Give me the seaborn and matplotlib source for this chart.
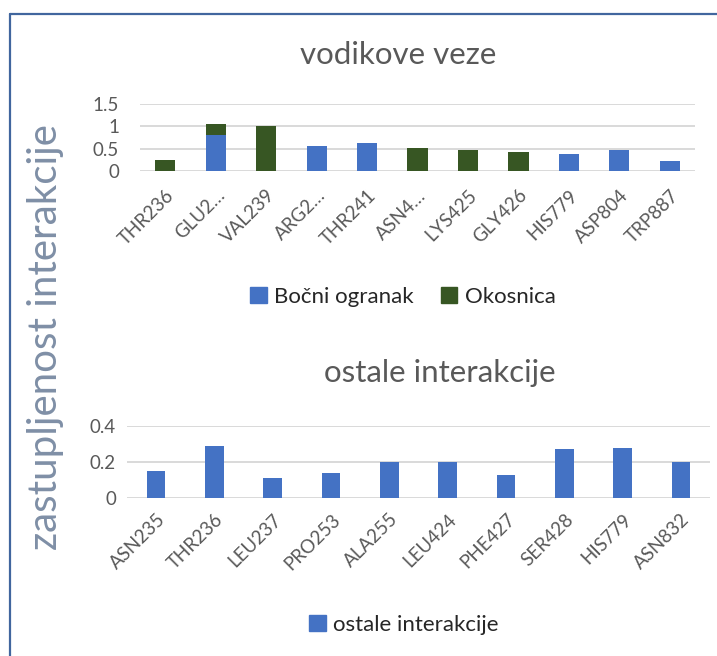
import matplotlib
matplotlib.use("Agg")
import matplotlib.pyplot as plt
from matplotlib.lines import Line2D
from matplotlib.patches import Patch
import seaborn as sns
import pandas as pd

# Hydrogen bonds: side chain vs. backbone contributions per residue
hb_residues = ["THR236", "GLU2…", "VAL239", "ARG2…", "THR241", "ASN4…",
               "LYS425", "GLY426", "HIS779", "ASP804", "TRP887"]
hb_side_chain = [0.0, 0.80, 0.0, 0.56, 0.64, 0.0, 0.0, 0.0, 0.39, 0.47, 0.22]
hb_backbone = [0.26, 0.26, 1.01, 0.0, 0.0, 0.51, 0.47, 0.44, 0.0, 0.0, 0.0]

# Other interactions per residue
other_residues = ["ASN235", "THR236", "LEU237", "PRO253", "ALA255",
                  "LEU424", "PHE427", "SER428", "HIS779", "ASN832"]
other_values = [0.15, 0.29, 0.11, 0.14, 0.20, 0.20, 0.13, 0.27, 0.28, 0.20]

BLUE = "#4472C4"
GREEN = "#375623"
GRID = "#D9D9D9"
TEXT = "#595959"

sns.set_theme(style="white")
plt.rcParams["font.family"] = ["Lato", "DejaVu Sans"]

W, H = 717, 656
fig = plt.figure(figsize=(W / 100, H / 100), dpi=100)


def px_axes(left, right, top, bottom):
    return fig.add_axes([left / W, 1 - bottom / H, (right - left) / W, (bottom - top) / H])


hb = pd.DataFrame({
    "residue": hb_residues,
    "side": hb_side_chain,
    "total": [s + b for s, b in zip(hb_side_chain, hb_backbone)],
})
other = pd.DataFrame({"residue": other_residues, "value": other_values})

# --- top panel: stacked bars (backbone drawn as total, side chain over it)
ax1 = px_axes(140, 695, 104, 171.3)
sns.barplot(data=hb, x="residue", y="total", color=GREEN, saturation=1,
            width=0.40, ax=ax1, linewidth=0)
sns.barplot(data=hb, x="residue", y="side", color=BLUE, saturation=1,
            width=0.40, ax=ax1, linewidth=0)
ax1.set_ylim(0, 1.5)
ax1.set_yticks([0, 0.5, 1, 1.5])
ax1.set_yticklabels(["0", "0.5", "1", "1.5"])

# --- bottom panel
ax2 = px_axes(127, 710, 426, 498)
sns.barplot(data=other, x="residue", y="value", color=BLUE, saturation=1,
            width=0.32, ax=ax2, linewidth=0)
ax2.set_ylim(0, 0.4)
ax2.set_yticks([0, 0.2, 0.4])
ax2.set_yticklabels(["0", "0.2", "0.4"])

for ax, ypad, xpad in ((ax1, 15, 11), (ax2, 8, 9)):
    ax.set_xlabel("")
    ax.set_ylabel("")
    for s in ax.spines.values():
        s.set_visible(False)
    ax.grid(False)
    for t in ax.get_yticks():
        ax.axhline(t, color=GRID, lw=1.4, zorder=0)
    ax.set_axisbelow(True)
    ax.tick_params(axis="both", length=0, colors=TEXT)
    ax.tick_params(axis="y", pad=ypad, labelsize=13.5)
    ax.tick_params(axis="x", pad=xpad, labelsize=13.5)
    for lab in ax.get_xticklabels():
        lab.set_rotation(45)
        lab.set_ha("right")
        lab.set_rotation_mode("anchor")
    ax.set_xlim(-0.5, len(ax.get_xticks()) - 0.5)

# titles
fig.text(398 / W, 1 - 55 / H, "vodikove veze", ha="center", va="center",
         fontsize=22.5, color=TEXT)
fig.text(440 / W, 1 - 373 / H, "ostale interakcije", ha="center", va="center",
         fontsize=22.5, color=TEXT)

# shared y label
fig.text(46 / W, 1 - 337 / H, "zastupljenost interakcije", rotation=90,
         ha="center", va="center", fontsize=29, color="#7F8FA6")

# legends
leg_kw = dict(frameon=False, fontsize=16, handlelength=0.75, handleheight=0.75,
              handletextpad=0.35)
leg1 = fig.legend(handles=[Patch(color=BLUE, label="Bočni ogranak"),
                           Patch(color=GREEN, label="Okosnica")],
                  loc="center", bbox_to_anchor=(403 / W, 1 - 297 / H), ncol=2,
                  columnspacing=1.2, **leg_kw)
leg2 = fig.legend(handles=[Patch(color=BLUE, label="ostale interakcije")],
                  loc="center", bbox_to_anchor=(404 / W, 1 - 625 / H), **leg_kw)
for leg in (leg1, leg2):
    for t in leg.get_texts():
        t.set_color("#262626")

# chart-area frame (left and top edges)
frame_color = "#41669E"
fig.add_artist(Line2D([10 / W, 10 / W], [0, 1 - 13.5 / H], color=frame_color, lw=1.6,
                      transform=fig.transFigure))
fig.add_artist(Line2D([10 / W, 1], [1 - 13.5 / H, 1 - 13.5 / H], color=frame_color, lw=1.6,
                      transform=fig.transFigure))

fig.savefig("out.png", dpi=100, facecolor="white")
